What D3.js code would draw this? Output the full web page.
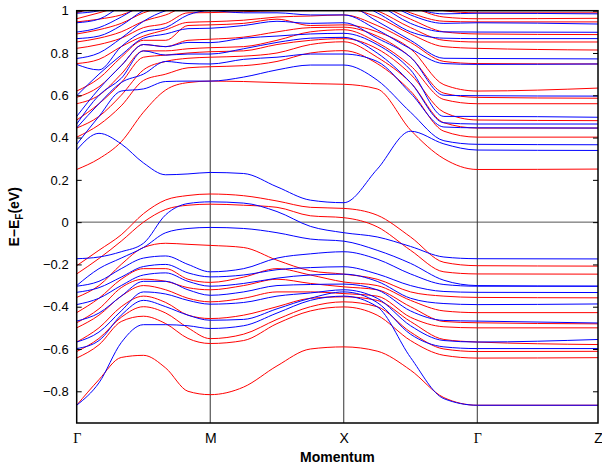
<!DOCTYPE html>
<html>
<head>
<meta charset="utf-8">
<script src="https://cdnjs.cloudflare.com/ajax/libs/d3/7.8.5/d3.min.js"></script>
<style>
  body { margin: 0; background: #fff; }
  svg { display: block; font-family: "Liberation Sans", Arial, sans-serif; }
</style>
</head>
<body>
<div id="bands"></div>
<script>
// high symmetry points along the path
let kTicks = [0, 1, 2, 3, 3.904];
let kLabels = ["Γ", "M", "X", "Γ", "Z"];
let yTicks = [-0.8, -0.6, -0.4, -0.2, 0, 0.2, 0.4, 0.6, 0.8, 1];

// k values where the energies below were read
let kPath = [0, 1/6, 2/6, 0.5, 4/6, 5/6, 1, 1.25, 1.5, 1.75, 2, 2.25, 2.5, 2.75, 3, 3.904];

// blue bands, one row per k point (sorted energies, eV)
let blueAtK = [
  [-0.866, -0.598, -0.567, -0.468, -0.39, -0.332, -0.303, -0.30, -0.173, 0.341, 0.368, 0.446, 0.464, 0.50, 0.598, 0.746, 0.774, 0.868, 0.899, 0.943, 0.988],
  [-0.76, -0.56, -0.52, -0.43, -0.36, -0.31, -0.28, -0.22, -0.165, 0.42, 0.50, 0.56, 0.60, 0.63, 0.70, 0.72, 0.80, 0.88, 0.92, 0.96, 1.0],
  [-0.57, -0.44, -0.42, -0.35, -0.30, -0.26, -0.22, -0.17, -0.14, 0.37, 0.62, 0.66, 0.68, 0.74, 0.79, 0.83, 0.87, 0.93, 0.97, 1.02, 1.05],
  [-0.485, -0.37, -0.33, -0.28, -0.25, -0.21, -0.17, -0.12, -0.10, 0.28, 0.63, 0.70, 0.81, 0.84, 0.87, 0.90, 0.95, 1.0, 1.03, 1.06, 1.1],
  [-0.485, -0.40, -0.34, -0.28, -0.24, -0.20, -0.16, -0.05, 0.035, 0.224, 0.665, 0.76, 0.79, 0.83, 0.89, 0.92, 1.0, 1.03, 1.06, 1.1, 1.12],
  [-0.49, -0.44, -0.37, -0.32, -0.28, -0.24, -0.20, -0.03, 0.088, 0.228, 0.667, 0.75, 0.795, 0.85, 0.915, 0.98, 1.02, 1.05, 1.08, 1.1, 1.12],
  [-0.503, -0.464, -0.388, -0.346, -0.303, -0.259, -0.235, -0.025, 0.096, 0.235, 0.667, 0.748, 0.795, 0.849, 0.917, 1.0, 1.03, 1.06, 1.08, 1.1, 1.12],
  [-0.49, -0.46, -0.38, -0.33, -0.29, -0.25, -0.22, -0.03, 0.09, 0.23, 0.686, 0.77, 0.82, 0.87, 0.93, 0.99, 1.03, 1.06, 1.08, 1.1, 1.12],
  [-0.43, -0.41, -0.35, -0.30, -0.265, -0.225, -0.17, -0.05, 0.05, 0.167, 0.72, 0.78, 0.85, 0.88, 0.95, 0.99, 1.03, 1.06, 1.08, 1.1, 1.12],
  [-0.37, -0.36, -0.335, -0.295, -0.25, -0.215, -0.15, -0.08, -0.02, 0.104, 0.743, 0.795, 0.87, 0.89, 0.94, 0.98, 1.03, 1.06, 1.08, 1.1, 1.12],
  [-0.35, -0.33, -0.32, -0.293, -0.246, -0.211, -0.14, -0.09, -0.05, 0.092, 0.743, 0.795, 0.874, 0.893, 0.943, 0.98, 1.03, 1.06, 1.08, 1.1, 1.12],
  [-0.40, -0.38, -0.36, -0.32, -0.28, -0.245, -0.175, -0.133, -0.07, 0.25, 0.672, 0.76, 0.80, 0.84, 0.87, 0.91, 0.95, 0.99, 1.03, 1.06, 1.1],
  [-0.64, -0.53, -0.49, -0.42, -0.36, -0.30, -0.245, -0.195, -0.115, 0.43, 0.52, 0.61, 0.66, 0.72, 0.78, 0.82, 0.86, 0.90, 0.94, 0.98, 1.02],
  [-0.835, -0.59, -0.56, -0.465, -0.385, -0.328, -0.295, -0.275, -0.165, 0.37, 0.385, 0.45, 0.47, 0.50, 0.60, 0.75, 0.775, 0.87, 0.90, 0.94, 0.985],
  [-0.866, -0.598, -0.567, -0.468, -0.39, -0.332, -0.303, -0.30, -0.173, 0.341, 0.368, 0.446, 0.464, 0.50, 0.598, 0.746, 0.774, 0.868, 0.899, 0.943, 0.988],
  [-0.866, -0.598, -0.555, -0.477, -0.387, -0.333, -0.303, -0.303, -0.174, 0.339, 0.366, 0.445, 0.464, 0.496, 0.596, 0.748, 0.772, 0.868, 0.898, 0.937, 0.985]
];

// red bands, one row per k point
let redAtK = [
  [-0.866, -0.643, -0.612, -0.567, -0.50, -0.476, -0.428, -0.356, -0.245, -0.206, 0.249, 0.402, 0.445, 0.483, 0.56, 0.59, 0.62, 0.75, 0.822, 0.852, 0.89, 0.947, 0.962, 0.99],
  [-0.745, -0.58, -0.55, -0.50, -0.44, -0.41, -0.36, -0.30, -0.172, -0.133, 0.30, 0.46, 0.50, 0.56, 0.60, 0.64, 0.68, 0.77, 0.84, 0.87, 0.91, 0.96, 0.99, 1.02],
  [-0.64, -0.47, -0.45, -0.40, -0.35, -0.31, -0.27, -0.20, -0.09, -0.06, 0.38, 0.55, 0.60, 0.66, 0.70, 0.74, 0.78, 0.83, 0.87, 0.90, 0.94, 0.98, 1.02, 1.05],
  [-0.63, -0.445, -0.40, -0.35, -0.30, -0.27, -0.22, -0.12, 0.0, 0.04, 0.52, 0.67, 0.72, 0.78, 0.81, 0.84, 0.86, 0.88, 0.92, 0.95, 0.99, 1.02, 1.05, 1.08],
  [-0.69, -0.48, -0.43, -0.38, -0.32, -0.28, -0.22, -0.10, 0.06, 0.105, 0.625, 0.70, 0.76, 0.79, 0.81, 0.83, 0.86, 0.91, 0.94, 0.98, 1.02, 1.05, 1.08, 1.1],
  [-0.80, -0.55, -0.50, -0.44, -0.36, -0.31, -0.27, -0.105, 0.08, 0.126, 0.66, 0.73, 0.775, 0.80, 0.82, 0.86, 0.93, 0.945, 0.99, 1.02, 1.05, 1.07, 1.09, 1.11],
  [-0.816, -0.574, -0.551, -0.456, -0.377, -0.32, -0.285, -0.11, 0.085, 0.133, 0.667, 0.735, 0.78, 0.806, 0.825, 0.865, 0.933, 0.948, 0.991, 1.02, 1.05, 1.07, 1.09, 1.11],
  [-0.78, -0.56, -0.53, -0.44, -0.36, -0.30, -0.26, -0.12, 0.08, 0.125, 0.665, 0.74, 0.785, 0.81, 0.83, 0.875, 0.94, 0.955, 0.995, 1.02, 1.05, 1.07, 1.09, 1.11],
  [-0.68, -0.48, -0.46, -0.40, -0.33, -0.27, -0.22, -0.18, 0.07, 0.10, 0.66, 0.76, 0.80, 0.84, 0.86, 0.90, 0.96, 0.97, 1.0, 1.03, 1.05, 1.07, 1.09, 1.11],
  [-0.60, -0.42, -0.40, -0.36, -0.33, -0.29, -0.25, -0.23, 0.03, 0.07, 0.655, 0.80, 0.84, 0.86, 0.90, 0.92, 0.93, 0.975, 1.0, 1.03, 1.05, 1.07, 1.09, 1.11],
  [-0.59, -0.401, -0.377, -0.353, -0.338, -0.306, -0.283, -0.246, 0.021, 0.065, 0.652, 0.811, 0.853, 0.868, 0.91, 0.922, 0.933, 0.98, 1.01, 1.04, 1.06, 1.08, 1.1, 1.12],
  [-0.61, -0.44, -0.40, -0.37, -0.35, -0.32, -0.30, -0.27, -0.022, 0.033, 0.63, 0.75, 0.78, 0.82, 0.85, 0.88, 0.90, 0.93, 0.97, 1.0, 1.03, 1.06, 1.08, 1.1],
  [-0.70, -0.56, -0.52, -0.47, -0.45, -0.40, -0.37, -0.33, -0.133, -0.07, 0.436, 0.62, 0.66, 0.70, 0.74, 0.78, 0.82, 0.85, 0.89, 0.92, 0.96, 0.99, 1.02, 1.05],
  [-0.83, -0.63, -0.60, -0.555, -0.495, -0.47, -0.42, -0.35, -0.235, -0.19, 0.30, 0.43, 0.47, 0.52, 0.58, 0.61, 0.65, 0.76, 0.83, 0.86, 0.90, 0.95, 0.97, 1.0],
  [-0.866, -0.643, -0.612, -0.567, -0.50, -0.476, -0.428, -0.356, -0.245, -0.206, 0.249, 0.402, 0.445, 0.483, 0.56, 0.59, 0.62, 0.75, 0.822, 0.852, 0.89, 0.947, 0.962, 0.99],
  [-0.866, -0.641, -0.611, -0.579, -0.50, -0.481, -0.428, -0.358, -0.246, -0.208, 0.251, 0.402, 0.445, 0.48, 0.56, 0.586, 0.634, 0.748, 0.814, 0.852, 0.887, 0.947, 0.964, 0.99]
];

let width = 602,
  height = 468,
  margin = { top: 10.7, right: 4, bottom: 45, left: 76.7 };

let x = d3.scaleLinear()
  .domain([0, 3.904])
  .range([margin.left, width - margin.right]);

let y = d3.scaleLinear()
  .domain([-0.95, 1])
  .range([height - margin.bottom, margin.top]);

let svg = d3.select("#bands")
  .append("svg")
  .attr("width", width)
  .attr("height", height);

svg.append("clipPath")
  .attr("id", "plot-clip")
  .append("rect")
  .attr("x", x(0))
  .attr("y", y(1))
  .attr("width", x(3.904) - x(0))
  .attr("height", y(-0.95) - y(1));

// row per k -> one array per band
function toBands(rows) {
  let n = rows[0].length;
  return d3.range(n).map(function(b) {
    return rows.map(function(row, i) { return [kPath[i], row[b]]; });
  });
}

let line = d3.line()
  .x(function(d) { return x(d[0]); })
  .y(function(d) { return y(d[1]); })
  .curve(d3.curveMonotoneX);

// zero line and the symmetry points
svg.append("line")
  .attr("x1", x(0)).attr("x2", x(3.904))
  .attr("y1", y(0)).attr("y2", y(0))
  .attr("stroke", "#555")
  .attr("stroke-width", 1);

svg.selectAll(".kline")
  .data(kTicks.slice(1, 4))
  .enter().append("line")
  .attr("class", "kline")
  .attr("x1", function(d) { return x(d); })
  .attr("x2", function(d) { return x(d); })
  .attr("y1", y(1))
  .attr("y2", y(-0.95))
  .attr("stroke", "#333")
  .attr("stroke-width", 1);

let plot = svg.append("g").attr("clip-path", "url(#plot-clip)");

plot.selectAll(".red")
  .data(toBands(redAtK))
  .enter().append("path")
  .attr("class", "red")
  .attr("d", line)
  .attr("fill", "none")
  .attr("stroke", "#ff0000")
  .attr("stroke-width", 1);

plot.selectAll(".blue")
  .data(toBands(blueAtK))
  .enter().append("path")
  .attr("class", "blue")
  .attr("d", line)
  .attr("fill", "none")
  .attr("stroke", "#0000ff")
  .attr("stroke-width", 1);

// axes
let yAxisL = d3.axisLeft(y)
  .tickValues(yTicks)
  .tickSize(-5)
  .tickPadding(8)
  .tickFormat(function(d) { return d === 0 ? "0" : d === 1 ? "1" : d3.format(".1f")(d).replace("-", "\u2212"); });

let yAxisR = d3.axisRight(y)
  .tickValues(yTicks)
  .tickSize(-5)
  .tickFormat("");

let xAxis = d3.axisBottom(x)
  .tickValues(kTicks)
  .tickSize(0)
  .tickPadding(10)
  .tickFormat(function(d, i) { return kLabels[i]; });

svg.append("g")
  .attr("transform", "translate(" + x(0) + ",0)")
  .call(yAxisL)
  .call(function(g) { g.select(".domain").remove(); })
  .selectAll("text")
  .attr("font-size", 13)
  .attr("font-family", "Liberation Sans, Arial, sans-serif")
  .attr("fill", "#000");

svg.append("g")
  .attr("transform", "translate(" + x(3.904) + ",0)")
  .call(yAxisR)
  .call(function(g) { g.select(".domain").remove(); });

svg.append("g")
  .attr("transform", "translate(0," + y(-0.95) + ")")
  .call(xAxis)
  .call(function(g) { g.select(".domain").remove(); })
  .selectAll("text")
  .attr("font-size", 14)
  .attr("fill", "#000")
  .attr("font-family", function(d, i) { return kLabels[i] === "Γ" ? "Liberation Serif, serif" : "Liberation Sans, Arial, sans-serif"; });

svg.selectAll(".tick line").attr("stroke", "#000");

// frame
svg.append("rect")
  .attr("x", x(0))
  .attr("y", y(1))
  .attr("width", x(3.904) - x(0))
  .attr("height", y(-0.95) - y(1))
  .attr("fill", "none")
  .attr("stroke", "#000")
  .attr("stroke-width", 1.5);

// labels
svg.append("text")
  .attr("x", (x(0) + x(3.904)) / 2)
  .attr("y", 462)
  .attr("text-anchor", "middle")
  .attr("font-size", 14)
  .attr("font-weight", "bold")
  .text("Momentum");

let yLabel = svg.append("text")
  .attr("transform", "translate(19," + (y(1) + y(-0.95)) / 2 + ") rotate(-90)")
  .attr("text-anchor", "middle")
  .attr("font-size", 14)
  .attr("font-weight", "bold");

yLabel.append("tspan").text("E\u2212E");
yLabel.append("tspan").attr("font-size", 10).attr("dy", 4).text("F");
yLabel.append("tspan").attr("dy", -4).text("(eV)");
</script>
</body>
</html>
